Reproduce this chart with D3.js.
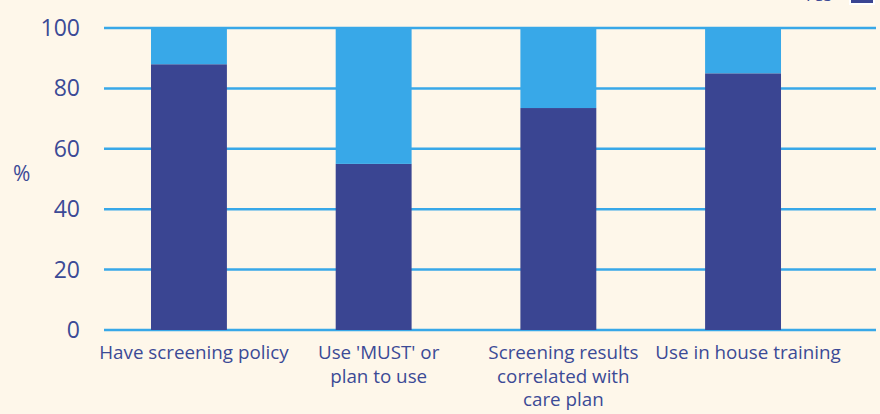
<!DOCTYPE html>
<html>
<head>
<meta charset="utf-8">
<script src="https://cdn.jsdelivr.net/npm/d3@7"></script>
<style>
  body { margin: 0; background: #fef7ea; }
  svg { display: block; font-family: "Open Sans", sans-serif; }
</style>
</head>
<body>
<svg width="880" height="414"></svg>
<script>
// data
const categories = ["Have screening policy", "Use 'MUST' or plan to use", "Screening results correlated with care plan", "Use in house training"];
const labelLines = [["Have screening policy"], ["Use 'MUST' or", "plan to use"], ["Screening results", "correlated with", "care plan"], ["Use in house training"]];
const yesValues = [88, 55, 73.5, 85];
const noValues = [12, 45, 26.5, 15];
const yTicks = [0, 20, 40, 60, 80, 100];

const dark = "#3a4592", light = "#38a8e8", textCol = "#3b4a96";

const svg = d3.select("svg");

svg.append("rect").attr("width", 880).attr("height", 414).attr("fill", "#fef7ea");

const x = d3.scaleBand()
  .domain(categories)
  .range([96.6, 835.4])
  .paddingInner(0.589)
  .paddingOuter(0.2945);

const y = d3.scaleLinear().domain([0, 100]).range([330, 28]);

// 그리드 라인
svg.append("g")
  .selectAll("line")
  .data(yTicks)
  .join("line")
  .attr("x1", 104)
  .attr("x2", 876)
  .attr("y1", d => y(d))
  .attr("y2", d => y(d))
  .attr("stroke", light)
  .attr("stroke-width", 2.5);

// y 축 글자
svg.append("g")
  .selectAll("text")
  .data(yTicks)
  .join("text")
  .attr("x", 80)
  .attr("y", d => y(d))
  .attr("dy", "0.35em")
  .attr("text-anchor", "end")
  .attr("fill", textCol)
  .style("font-size", "23px")
  .text(d => d);

svg.append("text")
  .attr("x", 13)
  .attr("y", 181)
  .attr("fill", textCol)
  .style("font-size", "21px")
  .text("%");

// 막대 (Yes)
svg.append("g")
  .selectAll("rect")
  .data(categories)
  .join("rect")
  .attr("x", d => x(d))
  .attr("width", x.bandwidth())
  .attr("y", (d, i) => y(yesValues[i]))
  .attr("height", (d, i) => y(0) - y(yesValues[i]))
  .attr("fill", dark);

// 막대 (No)
svg.append("g")
  .selectAll("rect")
  .data(categories)
  .join("rect")
  .attr("x", d => x(d))
  .attr("width", x.bandwidth())
  .attr("y", (d, i) => y(yesValues[i] + noValues[i]))
  .attr("height", (d, i) => y(yesValues[i]) - y(yesValues[i] + noValues[i]))
  .attr("fill", light);

// 카테고리 글자
const labels = svg.append("g")
  .selectAll("text")
  .data(categories)
  .join("text")
  .attr("x", d => x(d) + x.bandwidth() / 2 + 5)
  .attr("y", 359)
  .attr("text-anchor", "middle")
  .attr("fill", textCol)
  .style("font-size", "18.8px");

labels.selectAll("tspan")
  .data((d, i) => labelLines[i])
  .join("tspan")
  .attr("x", function () { return this.parentNode.getAttribute("x"); })
  .attr("dy", (d, i) => i === 0 ? 0 : 23.5)
  .text(d => d);

// 범례 (잘려 있음)
svg.append("text")
  .attr("x", 832)
  .attr("y", 1)
  .attr("text-anchor", "end")
  .attr("fill", textCol)
  .style("font-size", "18px")
  .text("Yes");

svg.append("rect")
  .attr("x", 850)
  .attr("y", -20)
  .attr("width", 24)
  .attr("height", 24)
  .attr("fill", dark)
  .attr("stroke", "white")
  .attr("stroke-width", 2);
</script>
</body>
</html>
